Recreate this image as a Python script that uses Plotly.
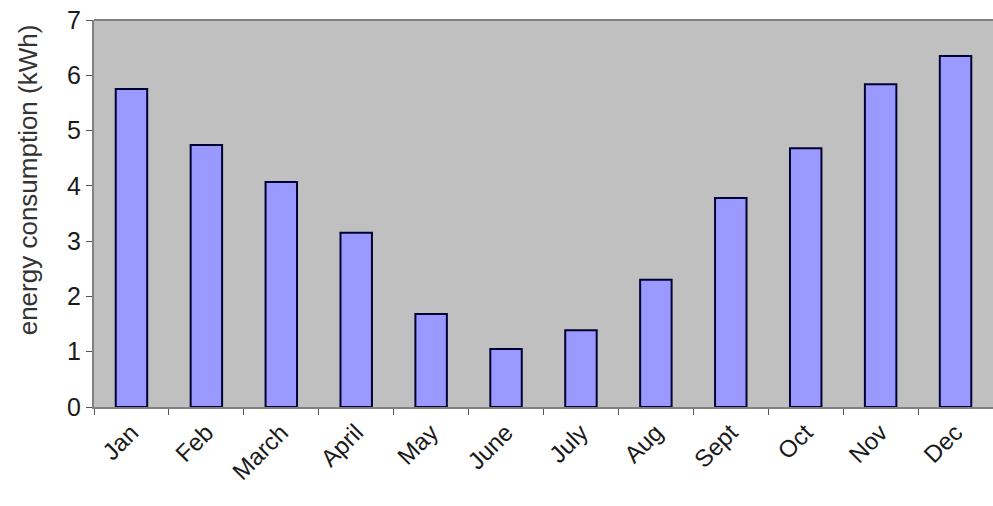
import plotly.graph_objects as go

months = ["Jan", "Feb", "March", "April", "May", "June", "July", "Aug", "Sept", "Oct", "Nov", "Dec"]
energy_kwh = [5.75, 4.74, 4.07, 3.15, 1.68, 1.05, 1.39, 2.30, 3.78, 4.68, 5.84, 6.35]
y_ticks = [0, 1, 2, 3, 4, 5, 6, 7]
y_title = "energy consumption (kWh)"

fig = go.Figure()
fig.add_trace(go.Bar(
    x=months, y=energy_kwh, width=0.42,
    marker=dict(color="#9999ff", line=dict(color="#000033", width=2)),
))

fig.update_layout(
    width=993, height=506,
    margin=dict(l=94, r=0, t=20, b=99, autoexpand=False),
    paper_bgcolor="white", plot_bgcolor="#c0c0c0",
    showlegend=False,
    font=dict(family="Liberation Sans, Arial, sans-serif", color="#1a1a1a"),
)
fig.update_xaxes(
    type="category", tickangle=-45, tickson="boundaries",
    ticks="outside", ticklen=6, tickcolor="#555555",
    showline=True, linecolor="#808080", linewidth=2,
    showgrid=False, tickfont=dict(size=24),
)
fig.update_yaxes(
    range=[0, 7], tickvals=y_ticks, ticks="outside", ticklen=6, tickcolor="#555555",
    showline=True, linecolor="#808080", linewidth=2, showgrid=False, zeroline=False,
    tickfont=dict(size=25),
)
fig.add_shape(type="line", xref="paper", yref="paper", x0=0, x1=1, y0=1, y1=1,
              line=dict(color="#808080", width=2))
fig.add_annotation(text=y_title, textangle=-90, xref="paper", yref="paper",
                   x=-0.074, y=0.587, showarrow=False, font=dict(size=26, color="#333333"),
                   xanchor="center", yanchor="middle")

fig.write_html("out.html", config={"displayModeBar": False},
               post_script="document.body.style.margin='0';")
